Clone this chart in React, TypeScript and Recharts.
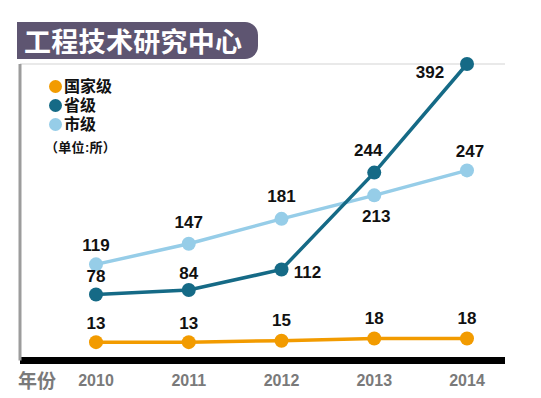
import React from 'react';
import { LineChart, Line, XAxis, YAxis, CartesianGrid, Legend, LabelList } from 'recharts';

const years = ['2010', '2011', '2012', '2013', '2014'];
const national = [13, 13, 15, 18, 18];
const provincial = [78, 84, 112, 244, 392];
const municipal = [119, 147, 181, 213, 247];
const gridTicks = [100, 190, 288, 385];
const seriesNames = ['国家级', '省级', '市级'];
const unitText = '（单位:所）';
const titleText = '工程技术研究中心';
const xTitle = '年份';

const data = years.map((year, i) => ({
  year,
  national: national[i],
  provincial: provincial[i],
  municipal: municipal[i],
}));

const COLORS = { national: '#f29b00', provincial: '#156a86', municipal: '#96cde8' };
const NUM_FONT = '"Liberation Sans", Arial, Helvetica, sans-serif';
const CJK_FONT = '"Noto Sans CJK SC", "Noto Sans", sans-serif';
const LEGEND_FONT = '"Liberation Sans", "Noto Sans CJK SC", sans-serif';

const nationalOffsets: [number, number][] = [[0, -19], [0, -19], [0, -20], [0, -20], [0, -20]];
const provincialOffsets: [number, number][] = [[0, -18], [0, -17], [26, 3], [-6, -22], [-37, 8]];
const municipalOffsets: [number, number][] = [[0, -19], [0, -21], [0, -22], [2, 21], [3, -19]];

const makeLabel = (offsets: [number, number][]) => (props: any) => {
  const { x, y, value, index } = props;
  const [dx, dy] = offsets[index] ?? [0, -20];
  return (
    <text
      x={Number(x) + dx}
      y={Number(y) + dy}
      textAnchor="middle"
      dominantBaseline="central"
      fontSize={17}
      fontWeight={700}
      fill="#111"
      fontFamily={NUM_FONT}
    >
      {value}
    </text>
  );
};

const legendColors = [COLORS.national, COLORS.provincial, COLORS.municipal];

const renderLegend = () => (
  <div style={{ fontFamily: LEGEND_FONT }}>
    {seriesNames.map((name, i) => (
      <div key={name} style={{ display: 'flex', alignItems: 'center', height: 19, overflow: 'visible' }}>
        <span
          style={{
            width: 13,
            height: 13,
            borderRadius: '50%',
            background: legendColors[i],
            display: 'inline-block',
            flex: 'none',
          }}
        />
        <span
          style={{
            display: 'block',
            height: 17,
            marginLeft: 2,
            fontSize: 16,
            lineHeight: '17px',
            fontWeight: 700,
            color: '#111',
            overflow: 'visible',
            whiteSpace: 'nowrap',
          }}
        >
          {name}
        </span>
      </div>
    ))}
    <div
      style={{
        display: 'block',
        height: 14,
        marginTop: 7,
        marginLeft: -4,
        fontSize: 13,
        lineHeight: '14px',
        fontWeight: 700,
        color: '#111',
        letterSpacing: 0.3,
        whiteSpace: 'nowrap',
      }}
    >
      {unitText}
    </div>
  </div>
);

export default function App() {
  return (
    <div style={{ position: 'relative', width: 533, height: 390 }}>
      <div
        style={{
          position: 'absolute',
          left: 9,
          top: 14,
          width: 241,
          height: 37,
          background: '#5e5571',
          borderRadius: '0 13px 13px 0',
          color: '#fff',
          fontFamily: CJK_FONT,
          fontWeight: 700,
          fontSize: 27,
          lineHeight: '37px',
          paddingLeft: 7,
          boxSizing: 'border-box',
          letterSpacing: 0.3,
          whiteSpace: 'nowrap',
          zIndex: 2,
        }}
      >
        {titleText}
      </div>
      <div
        style={{
          position: 'absolute',
          left: 10,
          top: 362,
          fontFamily: CJK_FONT,
          fontWeight: 700,
          fontSize: 19,
          lineHeight: '20px',
          color: '#7a7a7a',
          zIndex: 2,
        }}
      >
        {xTitle}
      </div>
      <LineChart
        width={533}
        height={390}
        data={data}
        margin={{ top: 56, right: 36, bottom: 7.5, left: 0 }}
      >
        <CartesianGrid vertical={false} stroke="#e2e2e2" strokeWidth={1.5} />
        <XAxis
          dataKey="year"
          padding={{ left: 76, right: 38 }}
          tickLine={false}
          axisLine={{ stroke: '#000', strokeWidth: 7 }}
          tick={{ fill: '#7a7a7a', fontSize: 16, fontWeight: 700, fontFamily: NUM_FONT }}
          tickMargin={8}
          height={30}
          interval={0}
        />
        <YAxis
          type="number"
          domain={[-12, 392]}
          ticks={gridTicks}
          tick={false}
          tickLine={false}
          width={12}
          axisLine={{ stroke: '#9c9c9c', strokeWidth: 3 }}
        />
        <Legend
          layout="vertical"
          align="center"
          verticalAlign="middle"
          content={renderLegend}
          wrapperStyle={{ position: 'absolute', left: 41, top: 69, width: 'auto', height: 'auto' }}
        />
        <Line
          dataKey="municipal"
          name={seriesNames[2]}
          stroke={COLORS.municipal}
          strokeWidth={3.5}
          dot={{ r: 7, fill: COLORS.municipal, stroke: COLORS.municipal, strokeWidth: 0 }}
          activeDot={false}
          isAnimationActive={false}
        >
          <LabelList dataKey="municipal" content={makeLabel(municipalOffsets)} />
        </Line>
        <Line
          dataKey="provincial"
          name={seriesNames[1]}
          stroke={COLORS.provincial}
          strokeWidth={3.5}
          dot={{ r: 7, fill: COLORS.provincial, stroke: COLORS.provincial, strokeWidth: 0 }}
          activeDot={false}
          isAnimationActive={false}
        >
          <LabelList dataKey="provincial" content={makeLabel(provincialOffsets)} />
        </Line>
        <Line
          dataKey="national"
          name={seriesNames[0]}
          stroke={COLORS.national}
          strokeWidth={3.5}
          dot={{ r: 7, fill: COLORS.national, stroke: COLORS.national, strokeWidth: 0 }}
          activeDot={false}
          isAnimationActive={false}
        >
          <LabelList dataKey="national" content={makeLabel(nationalOffsets)} />
        </Line>
      </LineChart>
    </div>
  );
}
